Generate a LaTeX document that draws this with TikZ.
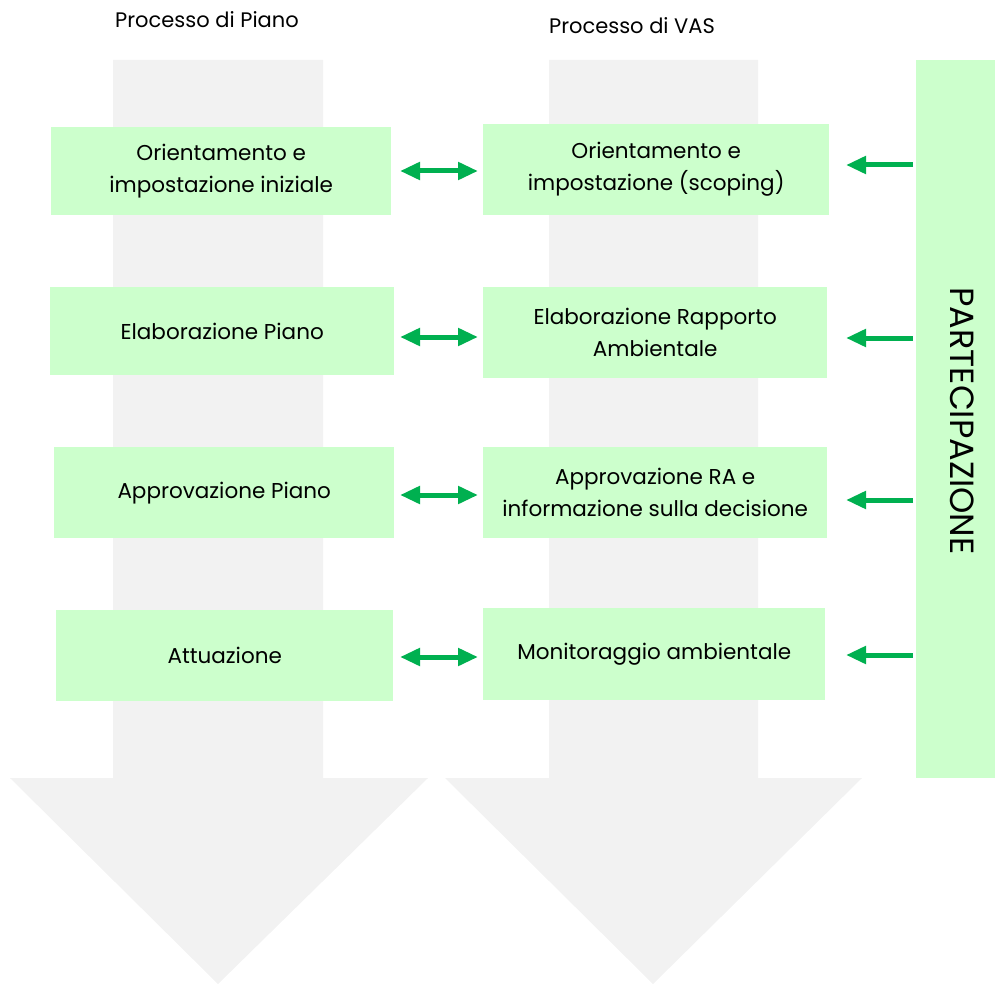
\documentclass[tikz,border=0pt]{standalone}
\usepackage{fontspec}
\setmainfont{Poppins}
\usetikzlibrary{arrows.meta}
\definecolor{boxgreen}{HTML}{CCFFCC}
\definecolor{arrgreen}{HTML}{00B050}
\definecolor{bggrey}{HTML}{F2F2F2}
\tikzset{
  stepbox/.style={fill=boxgreen, draw=none, align=center, inner sep=0pt, anchor=north west, font=\fontsize{21.5}{32}\selectfont},
  link/.style={draw=arrgreen, line width=5pt, -{Triangle[length=20pt,width=17pt]}},
  biLink/.style={draw=arrgreen, line width=5pt, {Triangle[length=20pt,width=17pt]}-{Triangle[length=20pt,width=17pt]}},
  title/.style={font=\fontsize{21}{24}\selectfont, inner sep=0pt}
}
\begin{document}
\begin{tikzpicture}[x=1pt,y=-1pt]
\useasboundingbox (0,0) rectangle (995,984);
% big grey arrows
\fill[bggrey] (113,60) -- (323,60) -- (323,778) -- (428,778) -- (218,984) -- (10,778) -- (113,778) -- cycle;
\fill[bggrey] (549,60) -- (758,60) -- (758,778) -- (862,778) -- (653,984) -- (445,778) -- (549,778) -- cycle;
% titles
\node[title] (t1) at (207,20) {Processo di Piano};
\node[title] (t2) at (632,26) {Processo di VAS};
% partecipazione
\node[fill=boxgreen, minimum width=79pt, minimum height=718pt, inner sep=0pt, anchor=north west] (part) at (916,60) {};
\node[rotate=-90, font=\fontsize{33.5}{36}\selectfont, inner sep=0pt] (ptext) at (962,421) {PARTECIPAZIONE};
% left boxes
\node[stepbox, minimum width=340pt, minimum height=88pt] (l1) at (51,127) {Orientamento e\\impostazione iniziale};
\node[stepbox, minimum width=344pt, minimum height=88pt] (l2) at (50,287) {Elaborazione Piano};
\node[stepbox, minimum width=340pt, minimum height=91pt] (l3) at (54,447) {Approvazione Piano};
\node[stepbox, minimum width=337pt, minimum height=91pt] (l4) at (56,610) {Attuazione};
% right boxes
\node[stepbox, minimum width=346pt, minimum height=91pt] (r1) at (483,124) {Orientamento e\\impostazione (scoping)};
\node[stepbox, minimum width=344pt, minimum height=91pt] (r2) at (483,287) {Elaborazione Rapporto\\Ambientale};
\node[stepbox, minimum width=344pt, minimum height=91pt] (r3) at (483,447) {Approvazione RA e\\informazione sulla decisione};
\node[stepbox, minimum width=342pt, minimum height=92pt] (r4) at (483,608) {Monitoraggio ambientale};
% double arrows
\coordinate (a1s) at (400,171); \coordinate (a1e) at (478,171);
\coordinate (a2s) at (400,337); \coordinate (a2e) at (478,337);
\coordinate (a3s) at (400,495); \coordinate (a3e) at (478,495);
\coordinate (a4s) at (400,657); \coordinate (a4e) at (478,657);
\draw[biLink] (a1s) -- (a1e);
\draw[biLink] (a2s) -- (a2e);
\draw[biLink] (a3s) -- (a3e);
\draw[biLink] (a4s) -- (a4e);
% participation arrows
\coordinate (p1) at (913,165); \coordinate (q1) at (846,165);
\coordinate (p2) at (913,338); \coordinate (q2) at (846,338);
\coordinate (p3) at (913,500); \coordinate (q3) at (846,500);
\coordinate (p4) at (913,655); \coordinate (q4) at (846,655);
\draw[link] (p1) -- (q1);
\draw[link] (p2) -- (q2);
\draw[link] (p3) -- (q3);
\draw[link] (p4) -- (q4);
\end{tikzpicture}
\end{document}
